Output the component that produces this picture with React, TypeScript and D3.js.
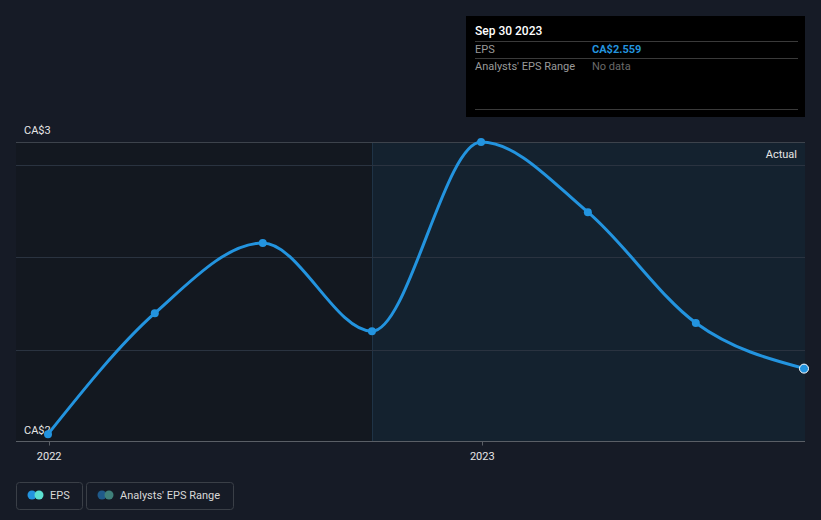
import { useEffect, useRef } from "react";
import * as d3 from "d3";

const dates = [
  "2021-12-31",
  "2022-03-31",
  "2022-06-30",
  "2022-09-30",
  "2022-12-31",
  "2023-03-31",
  "2023-06-30",
  "2023-09-30",
];
const eps = [2.417, 2.679, 2.831, 2.64, 3.05, 2.898, 2.658, 2.559];
const gridValues = [2.6, 2.8, 3.0];
const yLabels = [
  { value: 3.05, text: "CA$3" },
  { value: 2.4, text: "CA$2" },
];
const xTicks = ["2022-01-01", "2023-01-01"];
const actualStart = "2022-09-30";

const W = 821;
const H = 520;

const App = () => {
  const svgRef = useRef<SVGSVGElement | null>(null);

  useEffect(() => {
    if (!svgRef.current) return;
    const svg = d3.select(svgRef.current);
    svg.selectAll("*").remove();

    const parse = d3.timeParse("%Y-%m-%d");
    const data = dates.map((d, i) => ({ date: parse(d) as Date, value: eps[i] }));

    const left = 16;
    const right = 805;
    const top = 142;
    const bottom = 441;

    const x = d3
      .scaleTime()
      .domain([data[0].date, data[data.length - 1].date])
      .range([48, 805]);

    const y = d3.scaleLinear().domain([2.4, 3.05]).range([442, top]);

    svg.append("rect").attr("width", W).attr("height", H).attr("fill", "#161b26");

    // past region (darker) and actual region (blue tint)
    const xa = x(parse(actualStart) as Date);
    svg
      .append("rect")
      .attr("x", left)
      .attr("y", top)
      .attr("width", xa - left)
      .attr("height", bottom - top)
      .attr("fill", "#131820");
    svg
      .append("rect")
      .attr("x", xa)
      .attr("y", top)
      .attr("width", right - xa)
      .attr("height", bottom - top)
      .attr("fill", "#14222f");
    svg
      .append("line")
      .attr("x1", Math.round(xa) + 0.5)
      .attr("x2", Math.round(xa) + 0.5)
      .attr("y1", top)
      .attr("y2", bottom)
      .attr("stroke", "#1f3346")
      .attr("stroke-width", 1);

    // gridlines
    svg
      .append("g")
      .selectAll("line")
      .data(gridValues)
      .join("line")
      .attr("x1", left)
      .attr("x2", right)
      .attr("y1", (d) => Math.round(y(d)) + 0.5)
      .attr("y2", (d) => Math.round(y(d)) + 0.5)
      .attr("stroke", "#2a3340")
      .attr("stroke-width", 1);

    svg
      .append("line")
      .attr("x1", left)
      .attr("x2", right)
      .attr("y1", top + 0.5)
      .attr("y2", top + 0.5)
      .attr("stroke", "#3d434c")
      .attr("stroke-width", 1);

    // x axis
    const xAxis = svg.append("g").attr("transform", `translate(0,${bottom + 0.5})`);
    xAxis
      .append("line")
      .attr("x1", left)
      .attr("x2", right)
      .attr("stroke", "#5a5f66")
      .attr("stroke-width", 1);
    const tickDates = xTicks.map((d) => parse(d) as Date);
    xAxis
      .selectAll("line.tick")
      .data(tickDates)
      .join("line")
      .attr("class", "tick")
      .attr("x1", (d) => Math.round(x(d)) + 0.5)
      .attr("x2", (d) => Math.round(x(d)) + 0.5)
      .attr("y1", 0)
      .attr("y2", 4)
      .attr("stroke", "#5a5f66");
    xAxis
      .selectAll("text")
      .data(tickDates)
      .join("text")
      .attr("x", (d) => x(d))
      .attr("y", 18)
      .attr("text-anchor", "middle")
      .attr("fill", "#e6e6e6")
      .attr("font-size", 11)
      .attr("font-family", "Roboto, sans-serif")
      .text((d) => d3.timeFormat("%Y")(d));

    // y labels
    svg
      .append("g")
      .selectAll("text")
      .data(yLabels)
      .join("text")
      .attr("x", 24)
      .attr("y", (d) => y(d.value) - 8)
      .attr("fill", "#e6e6e6")
      .attr("font-size", 11)
      .attr("font-family", "Roboto, sans-serif")
      .text((d) => d.text);

    svg
      .append("text")
      .attr("x", 797)
      .attr("y", 158)
      .attr("text-anchor", "end")
      .attr("fill", "#e6e6e6")
      .attr("font-size", 11)
      .attr("font-family", "Roboto, sans-serif")
      .text("Actual");

    // line
    const line = d3
      .line<{ date: Date; value: number }>()
      .x((d) => x(d.date))
      .y((d) => y(d.value))
      .curve(d3.curveMonotoneX);

    svg
      .append("path")
      .datum(data)
      .attr("fill", "none")
      .attr("stroke", "#2394df")
      .attr("stroke-width", 3)
      .attr("d", line);

    svg
      .append("g")
      .selectAll("circle")
      .data(data.slice(0, -1))
      .join("circle")
      .attr("cx", (d) => x(d.date))
      .attr("cy", (d) => y(d.value))
      .attr("r", 4)
      .attr("fill", "#2394df");

    const last = data[data.length - 1];
    svg
      .append("circle")
      .attr("cx", x(last.date) - 1)
      .attr("cy", y(last.value))
      .attr("r", 4.5)
      .attr("fill", "#2394df")
      .attr("stroke", "#ffffff")
      .attr("stroke-width", 1);

    // tooltip
    const tip = svg.append("g").attr("font-family", "Roboto, sans-serif");
    tip
      .append("rect")
      .attr("x", 466)
      .attr("y", 16)
      .attr("width", 339)
      .attr("height", 101)
      .attr("fill", "#000000");
    tip
      .append("text")
      .attr("x", 475)
      .attr("y", 35)
      .attr("fill", "#ffffff")
      .attr("font-size", 12)
      .attr("font-weight", 500)
      .text("Sep 30 2023");
    [41, 58, 109].forEach((yy) => {
      tip
        .append("line")
        .attr("x1", 475)
        .attr("x2", 798)
        .attr("y1", yy + 0.5)
        .attr("y2", yy + 0.5)
        .attr("stroke", "#3a3a3a");
    });
    tip
      .append("text")
      .attr("x", 475)
      .attr("y", 53)
      .attr("fill", "#9a9a9a")
      .attr("font-size", 11)
      .text("EPS");
    tip
      .append("text")
      .attr("x", 592)
      .attr("y", 53)
      .attr("fill", "#2394df")
      .attr("font-size", 11)
      .attr("font-weight", 700)
      .text(`CA$${last.value.toFixed(3)}`);
    tip
      .append("text")
      .attr("x", 475)
      .attr("y", 70)
      .attr("fill", "#9a9a9a")
      .attr("font-size", 11)
      .text("Analysts' EPS Range");
    tip
      .append("text")
      .attr("x", 592)
      .attr("y", 70)
      .attr("fill", "#6a6a6a")
      .attr("font-size", 11)
      .text("No data");

    // legend
    const legend = [
      { label: "EPS", x: 16, w: 66, c1: "#2394df", c2: "#5ce0d0" },
      { label: "Analysts' EPS Range", x: 86, w: 147, c1: "#1f5a8a", c2: "#3f807a" },
    ];
    const lg = svg.append("g").attr("font-family", "Roboto, sans-serif");
    legend.forEach((l) => {
      lg.append("rect")
        .attr("x", l.x + 0.5)
        .attr("y", 482.5)
        .attr("width", l.w)
        .attr("height", 27)
        .attr("rx", 3)
        .attr("fill", "none")
        .attr("stroke", "#3a3f47");
      lg.append("circle").attr("cx", l.x + 16).attr("cy", 495).attr("r", 4.5).attr("fill", l.c1);
      lg.append("circle").attr("cx", l.x + 23).attr("cy", 495).attr("r", 4.5).attr("fill", l.c2);
      lg.append("text")
        .attr("x", l.x + 34)
        .attr("y", 499)
        .attr("fill", "#d8d8d8")
        .attr("font-size", 11)
        .text(l.label);
    });
  }, []);

  return (
    <svg
      ref={svgRef}
      width={W}
      height={H}
      style={{ position: "absolute", left: 0, top: 0, display: "block" }}
    />
  );
};

export default App;
